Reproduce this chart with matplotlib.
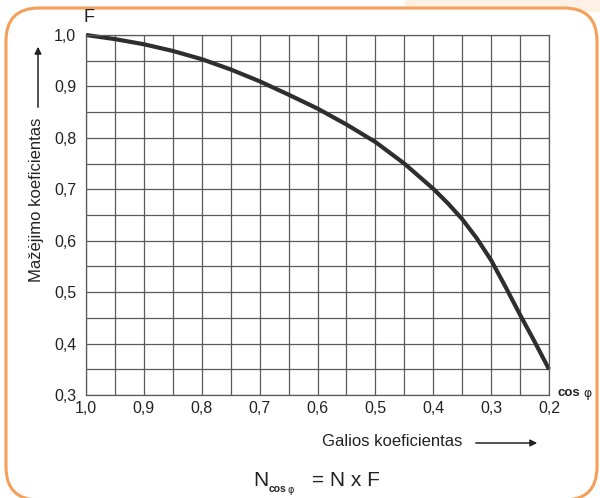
import matplotlib
matplotlib.use("Agg")
import matplotlib.pyplot as plt
import matplotlib.patches as patches
import numpy as np

# values
cos_phi = [1.0, 0.95, 0.9, 0.85, 0.8, 0.75, 0.7, 0.65, 0.6, 0.55, 0.5, 0.45, 0.4,
           0.375, 0.35, 0.325, 0.3, 0.275, 0.25, 0.225, 0.2]
factor_f = [1.0, 0.992, 0.982, 0.969, 0.953, 0.933, 0.910, 0.884, 0.857, 0.826, 0.792, 0.750, 0.701,
            0.673, 0.642, 0.605, 0.562, 0.510, 0.456, 0.404, 0.350]
x_ticks = [1.0, 0.9, 0.8, 0.7, 0.6, 0.5, 0.4, 0.3, 0.2]
y_ticks = [0.3, 0.4, 0.5, 0.6, 0.7, 0.8, 0.9, 1.0]

plt.rcParams['font.family'] = ['Liberation Sans', 'DejaVu Sans']
narrow = ['Liberation Sans Narrow', 'Liberation Sans', 'DejaVu Sans']

fig = plt.figure(figsize=(6.0, 4.98), dpi=100)
W, H = 600, 498

def fx(px):
    return px / W

def fy(py):
    return 1 - py / H

# background: peach strip at top right, orange rounded frame
fig.patches.append(patches.Rectangle((fx(405), fy(12)), fx(600) - fx(405), 12 / H,
                                     transform=fig.transFigure, facecolor='#fdf0e5',
                                     edgecolor='none', zorder=0))
fig.patches.append(patches.FancyBboxPatch((fx(6), fy(500)), fx(597) - fx(6), fy(8) - fy(500),
                                          boxstyle="round,pad=0,rounding_size=0.055",
                                          mutation_aspect=W / H,
                                          transform=fig.transFigure, facecolor='white',
                                          edgecolor='#f5a05a', linewidth=2.2, zorder=1))

ax = fig.add_axes([fx(86), fy(395), fx(549) - fx(86), fy(35) - fy(395)])
ax.set_zorder(2)
ax.set_xlim(1.0, 0.2)
ax.set_ylim(0.3, 1.0)
ax.set_xticks(np.arange(0.2, 1.0001, 0.05), minor=True)
ax.set_yticks(np.arange(0.3, 1.0001, 0.05), minor=True)
ax.set_xticks(x_ticks)
ax.set_yticks(y_ticks)
ax.set_xticklabels([f"{v:.1f}".replace('.', ',') for v in x_ticks], fontsize=11.5)
ax.set_yticklabels([f"{v:.1f}".replace('.', ',') for v in y_ticks], fontsize=11.5)
ax.tick_params(which='both', length=0, colors='#222')
ax.tick_params(axis='x', pad=4)
ax.tick_params(axis='y', pad=7)
ax.grid(which='both', color='#5a5a5a', linewidth=0.9)
for s in ax.spines.values():
    s.set_color('#5a5a5a')
    s.set_linewidth(0.9)
ax.set_axisbelow(True)

ax.plot(cos_phi, factor_f, color='#2e2e2e', linewidth=3.0, solid_capstyle='butt',
        solid_joinstyle='round', clip_on=False)

# annotations
fig.text(fx(89), fy(17), 'F', fontsize=13, ha='center', va='center', color='#222', zorder=5)
fig.text(fx(557), fy(393), 'cos', fontsize=9.5, ha='left', va='center', color='#222',
         fontweight='bold', zorder=5)
fig.text(fx(583), fy(394), 'φ', fontsize=9, ha='left', va='center', color='#222',
         family=['DejaVu Sans'], zorder=5)

fig.text(fx(37), fy(200), 'Mažėjimo koeficientas', rotation=90, fontsize=12,
         ha='center', va='center', family=narrow, color='#222', zorder=5)
fig.add_artist(patches.FancyArrowPatch((fx(38), fy(110)), (fx(38), fy(44)),
                                       transform=fig.transFigure, arrowstyle='-|>',
                                       mutation_scale=10, color='#222', linewidth=1.1,
                                       zorder=5))

fig.text(fx(392), fy(441), 'Galios koeficientas', fontsize=12, ha='center', va='center',
         family=narrow, color='#222', zorder=5)
fig.add_artist(patches.FancyArrowPatch((fx(473), fy(443)), (fx(540), fy(443)),
                                       transform=fig.transFigure, arrowstyle='-|>',
                                       mutation_scale=10, color='#222', linewidth=1.1,
                                       zorder=5))

fig.text(fx(253), fy(480), 'N', fontsize=15, ha='left', va='center', color='#222', zorder=5)
fig.text(fx(269), fy(489), 'cos', fontsize=7.5, ha='left', va='center', color='#222',
         fontweight='bold', zorder=5)
fig.text(fx(288), fy(490), 'φ', fontsize=7, ha='left', va='center', color='#222',
         family=['DejaVu Sans'], zorder=5)
fig.text(fx(312), fy(480), '= N x F', fontsize=15, ha='left', va='center', color='#222',
         zorder=5)

fig.savefig('out.png', dpi=100)
